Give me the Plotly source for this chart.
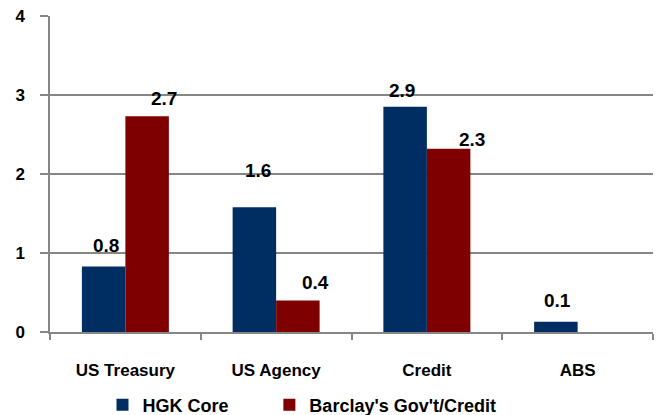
import plotly.graph_objects as go

categories = ["US Treasury", "US Agency", "Credit", "ABS"]
hgk_values = [0.83, 1.58, 2.85, 0.13]
barclay_values = [2.73, 0.40, 2.32, None]
hgk_labels = ["0.8", "1.6", "2.9", "0.1"]
barclay_labels = ["2.7", "0.4", "2.3", ""]
y_ticks = [0, 1, 2, 3, 4]

BLUE = "#002D62"
RED = "#7F0000"
FONT = "Liberation Sans, Arial, sans-serif"

fig = go.Figure()
fig.add_trace(go.Bar(name="HGK Core", x=categories, y=hgk_values, legend="legend",
                     marker=dict(color=BLUE, line=dict(width=0))))
fig.add_trace(go.Bar(name="Barclay's Gov't/Credit", x=categories, y=barclay_values,
                     legend="legend2", marker=dict(color=RED, line=dict(width=0))))

# label placement tweaks (pixel shifts) to mimic the source
hgk_dx = [2, 4, -3, 2]
hgk_dy = [13, 29, 9, 14]
bar_dx = [17, 18, 23, 0]
bar_dy = [10, 10, 2, 0]
half = 21.8
for i, c in enumerate(categories):
    fig.add_annotation(x=c, y=hgk_values[i], text=hgk_labels[i], showarrow=False,
                       xref="x", yref="y", yanchor="bottom",
                       xshift=-half + hgk_dx[i], yshift=hgk_dy[i] - 5,
                       font=dict(family=FONT, size=19, color="black", weight="bold"))
    if barclay_values[i] is not None and barclay_labels[i]:
        fig.add_annotation(x=c, y=barclay_values[i], text=barclay_labels[i], showarrow=False,
                           xref="x", yref="y", yanchor="bottom",
                           xshift=half + bar_dx[i], yshift=bar_dy[i] - 5,
                           font=dict(family=FONT, size=19, color="black", weight="bold"))

legend_style = dict(orientation="h", xanchor="left", xref="container",
                    y=0.024, yanchor="middle", yref="container",
                    font=dict(family=FONT, size=18, color="black", weight="bold"),
                    itemwidth=30, bgcolor="rgba(0,0,0,0)")

fig.update_layout(
    width=657, height=415,
    margin=dict(l=50, r=4, t=16, b=83, autoexpand=False),
    paper_bgcolor="white", plot_bgcolor="white",
    barmode="group", bargap=0.423, bargroupgap=0,
    font=dict(family=FONT, color="black"),
    showlegend=True,
    legend=dict(x=0.156, **legend_style),
    legend2=dict(x=0.41, **legend_style),
)
fig.update_yaxes(range=[0, 4], tickvals=y_ticks, showgrid=True, gridcolor="#868686",
                 gridwidth=1.5, showline=True, linecolor="#868686", linewidth=1.5,
                 ticks="outside", ticklen=8, tickcolor="#868686", tickwidth=1.5,
                 tickfont=dict(family=FONT, size=17, color="black", weight="bold"),
                 ticklabelstandoff=12, zeroline=False, fixedrange=True, automargin=False)
fig.update_xaxes(showline=True, linecolor="#868686", linewidth=1.5,
                 ticks="outside", tickson="boundaries", ticklen=6, tickcolor="#868686",
                 tickwidth=1.5, tickfont=dict(family=FONT, size=17, color="black", weight="bold"),
                 ticklabelstandoff=22, fixedrange=True, automargin=False)

fig.write_html("out.html")
